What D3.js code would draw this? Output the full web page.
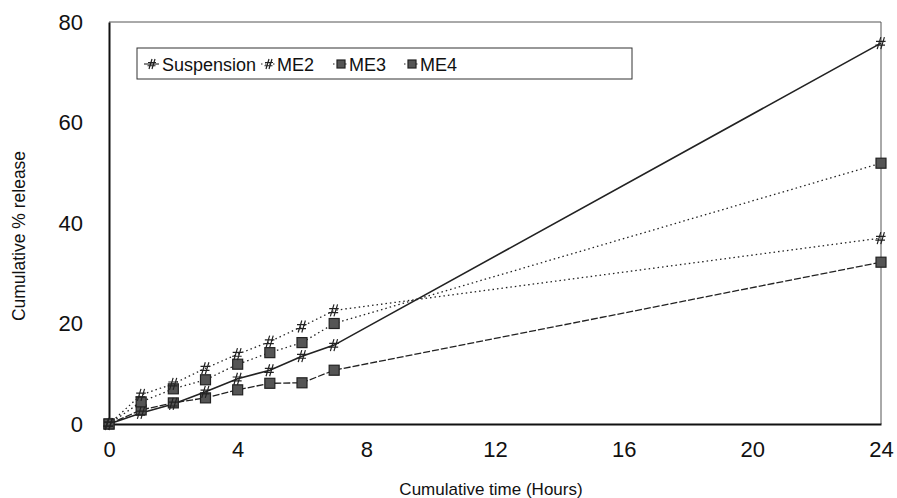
<!DOCTYPE html>
<html>
<head>
<meta charset="utf-8">
<script src="https://cdn.jsdelivr.net/npm/d3@7"></script>
<style>
  body { margin: 0; background: #fff; }
  svg { font-family: "Liberation Sans", Arial, sans-serif; }
</style>
</head>
<body>
<svg id="chart" width="897" height="498"></svg>
<script>
// Data
const hours = [0, 1, 2, 3, 4, 5, 6, 7, 24];
const suspension = [0, 2.2, 4.0, 6.4, 9.0, 10.7, 13.5, 15.7, 75.8];
const me2 = [0, 5.8, 8.0, 11.1, 13.9, 16.4, 19.4, 22.6, 37.0];
const me3 = [0, 4.4, 7.0, 8.8, 11.9, 14.2, 16.2, 20.0, 51.9];
const me4 = [0, 2.8, 4.2, 5.2, 6.8, 8.1, 8.2, 10.7, 32.2];
const xTicks = [0, 4, 8, 12, 16, 20, 24];
const yTicks = [0, 20, 40, 60, 80];

const series = [
    { name: "Suspension", values: suspension, marker: "hash", dash: null, width: 1.6 },
    { name: "ME2", values: me2, marker: "hash", dash: "1.5,3", width: 1.3 },
    { name: "ME3", values: me3, marker: "square", dash: "1.5,3", width: 1.3 },
    { name: "ME4", values: me4, marker: "square", dash: "7,2", width: 1.3 }
];

const svg = d3.select("#chart");
const x = d3.scaleLinear().domain([0, 24]).range([109, 881]);
const y = d3.scaleLinear().domain([0, 80]).range([424, 22]);

// frame: top and right borders
svg.append("line").attr("x1", x(0)).attr("x2", x(24)).attr("y1", y(80)).attr("y2", y(80))
    .attr("stroke", "#555").attr("stroke-width", 1);
svg.append("line").attr("x1", x(24)).attr("x2", x(24)).attr("y1", y(80)).attr("y2", y(0))
    .attr("stroke", "#555").attr("stroke-width", 1);

// axes
const xAxis = svg.append("g").attr("transform", `translate(0,${y(0)})`)
    .call(d3.axisBottom(x).tickValues(xTicks).tickSize(0).tickPadding(17));
const yAxis = svg.append("g").attr("transform", `translate(${x(0)},0)`)
    .call(d3.axisLeft(y).tickValues(yTicks).tickSize(0).tickPadding(26));
[xAxis, yAxis].forEach(g => {
    g.select(".domain").attr("stroke", "#111").attr("stroke-width", 2);
    g.selectAll("text").attr("font-size", 22).attr("fill", "#111")
        .attr("font-family", "Liberation Sans, Arial, sans-serif");
});

svg.append("text").attr("x", 491).attr("y", 495).attr("text-anchor", "middle")
    .attr("font-size", 17).attr("fill", "#111").text("Cumulative time (Hours)");
svg.append("text").attr("transform", "translate(25,236) rotate(-90)").attr("text-anchor", "middle")
    .attr("font-size", 17.5).attr("fill", "#111").text("Cumulative % release");

const hashPath = (cx, cy, s) => {
    const h = s / 2;
    return `M${cx - h * 0.2},${cy + h} L${cx + h * 0.4},${cy - h}` +
        `M${cx - h * 0.8},${cy + h} L${cx - h * 0.2},${cy - h}` +
        `M${cx - h * 1.0},${cy - h * 0.3} L${cx + h * 0.6},${cy - h * 0.3}` +
        `M${cx - h * 1.1},${cy + h * 0.35} L${cx + h * 0.5},${cy + h * 0.35}`;
};

const drawMarker = (g, marker, cx, cy, size) => {
    if (marker === "hash") {
        g.append("path").attr("d", hashPath(cx + 1, cy, size + 2))
            .attr("stroke", "#222").attr("stroke-width", 1.2).attr("fill", "none");
    } else {
        g.append("rect").attr("x", cx - size / 2).attr("y", cy - size / 2)
            .attr("width", size).attr("height", size)
            .attr("fill", "#555").attr("stroke", "#222").attr("stroke-width", 1.2);
    }
};

const line = d3.line().x(d => x(d[0])).y(d => y(d[1]));

series.slice().reverse().forEach(s => {
    const pts = hours.map((h, i) => [h, s.values[i]]);
    svg.append("path").datum(pts).attr("d", line)
        .attr("fill", "none").attr("stroke", "#222").attr("stroke-width", s.width)
        .attr("stroke-dasharray", s.dash);
});
series.slice().reverse().forEach(s => {
    const g = svg.append("g");
    hours.forEach((h, i) => drawMarker(g, s.marker, x(h), y(s.values[i]), 10));
});

// legend
const legend = svg.append("g");
legend.append("rect").attr("x", 137).attr("y", 48).attr("width", 495).attr("height", 31)
    .attr("fill", "#fff").attr("stroke", "#333").attr("stroke-width", 1);
const legendX = [152, 269, 341, 412];
series.forEach((s, i) => {
    const cx = legendX[i];
    legend.append("line").attr("x1", cx - 8).attr("x2", cx + 7).attr("y1", 64).attr("y2", 64)
        .attr("stroke", "#222").attr("stroke-width", 1.1).attr("stroke-dasharray", s.dash ? "1.5,2.5" : null);
    drawMarker(legend, s.marker, cx, 64, 8);
    legend.append("text").attr("x", cx + (i === 0 ? 10 : 8)).attr("y", 71).attr("font-size", 18).attr("fill", "#111")
        .text(s.name);
});
</script>
</body>
</html>
